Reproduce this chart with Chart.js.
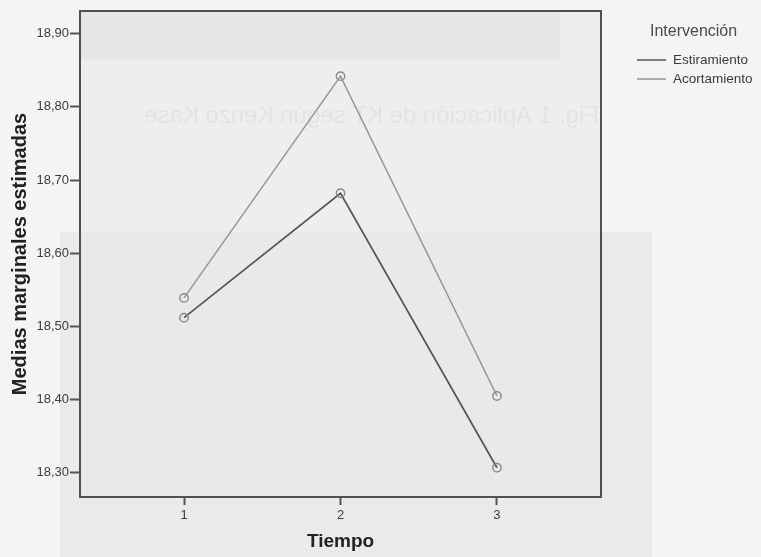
<!DOCTYPE html>
<html>
<head>
<meta charset="utf-8">
<script src="https://cdn.jsdelivr.net/npm/chart.js@4.4.1/dist/chart.umd.min.js"></script>
<style>
  html, body { margin: 0; padding: 0; background: #f4f4f4; }
  #wrap { width: 761px; height: 557px; position: relative; }
</style>
</head>
<body>
<div id="wrap"><canvas id="chart" width="761" height="557"></canvas></div>
<script>
// data
const tiempo = [1, 2, 3];
const estiramiento = [18.512, 18.682, 18.307];
const acortamiento = [18.539, 18.842, 18.405];
const yTicks = [18.30, 18.40, 18.50, 18.60, 18.70, 18.80, 18.90];
const ghostText = "Fig. 1 Aplicación de KT según Kenzo Kase";

const DARK = "#555555";
const LIGHT = "#959595";
const FONT = "'Liberation Sans', Arial, sans-serif";

const toPoints = (vals) => vals.map((v, i) => ({ x: tiempo[i], y: v }));

// background, scan show-through, frame and legend
const decor = {
    id: "decor",
    beforeDraw(chart) {
        const { ctx, chartArea: a } = chart;
        ctx.save();
        ctx.fillStyle = "#eaeaea";
        ctx.fillRect(60, 232, 592, 325);
        ctx.fillStyle = "#eeeeee";
        ctx.fillRect(a.left, a.top, a.right - a.left, a.bottom - a.top);
        ctx.fillStyle = "#e6e6e6";
        ctx.fillRect(a.left, a.top, 480, 49);
        ctx.fillStyle = "rgba(0,0,0,0.02)";
        ctx.fillRect(a.left, 232, a.right - a.left, a.bottom - 232);

        // mirrored text from the back of the page
        ctx.beginPath();
        ctx.rect(a.left, a.top, a.right - a.left, a.bottom - a.top);
        ctx.clip();
        ctx.translate(a.right - 2, 0);
        ctx.scale(-1, 1);
        ctx.fillStyle = "#e3e3e3";
        ctx.font = "24px " + FONT;
        ctx.textBaseline = "middle";
        ctx.fillText(ghostText, 0, 116);
        ctx.restore();
    },
    afterDraw(chart) {
        const { ctx, chartArea: a } = chart;
        ctx.save();
        ctx.strokeStyle = "#505050";
        ctx.lineWidth = 2;
        ctx.strokeRect(a.left, a.top, a.right - a.left, a.bottom - a.top);

        // legend
        ctx.fillStyle = "#4a4a4a";
        ctx.font = "16px " + FONT;
        ctx.textBaseline = "middle";
        ctx.fillText("Intervención", 650, 32);
        ctx.font = "13.5px " + FONT;
        chart.data.datasets.forEach((ds, i) => {
            const y = 60 + i * 19;
            ctx.strokeStyle = ds.borderColor;
            ctx.lineWidth = 1.5;
            ctx.beginPath();
            ctx.moveTo(637, y);
            ctx.lineTo(666, y);
            ctx.stroke();
            ctx.fillStyle = "#3a3a3a";
            ctx.fillText(ds.label, 673, y);
        });
        ctx.restore();
    }
};

new Chart(document.getElementById("chart").getContext("2d"), {
    type: "line",
    data: {
        datasets: [
            { label: "Estiramiento", data: toPoints(estiramiento), borderColor: DARK, borderWidth: 1.7,
              pointRadius: 4.2, pointBorderWidth: 1.4, pointBorderColor: "#888", pointBackgroundColor: "rgba(0,0,0,0)" },
            { label: "Acortamiento", data: toPoints(acortamiento), borderColor: LIGHT, borderWidth: 1.5,
              pointRadius: 4.2, pointBorderWidth: 1.4, pointBorderColor: "#8a8a8a", pointBackgroundColor: "rgba(0,0,0,0)" }
        ]
    },
    options: {
        responsive: false,
        animation: false,
        layout: { padding: { left: 0, right: 160, top: 11, bottom: 0 } },
        plugins: { legend: { display: false }, tooltip: { enabled: false } },
        scales: {
            x: {
                type: "linear", min: 0.335, max: 3.665,
                afterBuildTicks: (axis) => { axis.ticks = tiempo.map(v => ({ value: v })); },
                afterFit: (axis) => { axis.height = 60; },
                grid: { drawOnChartArea: false, tickLength: 8, tickWidth: 2, color: "#555" },
                border: { display: false },
                ticks: { color: "#3c3c3c", font: { family: FONT, size: 13 }, padding: 3 },
                title: { display: true, text: "Tiempo", color: "#222", padding: { top: 4 },
                         font: { family: FONT, size: 19, weight: "bold" } }
            },
            y: {
                min: 18.267, max: 18.931,
                afterBuildTicks: (axis) => { axis.ticks = yTicks.map(v => ({ value: v })); },
                afterFit: (axis) => { axis.width = 80; },
                grid: { drawOnChartArea: false, tickLength: 10, tickWidth: 2, color: "#555" },
                border: { display: false },
                ticks: { color: "#3c3c3c", font: { family: FONT, size: 13 }, padding: 1,
                         callback: (v) => v.toFixed(2).replace(".", ",") },
                title: { display: true, text: "Medias marginales estimadas", color: "#222", padding: { top: 8, bottom: 2 },
                         font: { family: FONT, size: 20, weight: "bold" } }
            }
        }
    },
    plugins: [decor]
});
</script>
</body>
</html>
